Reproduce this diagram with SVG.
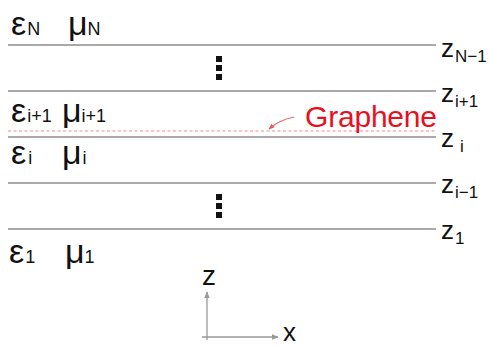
<svg xmlns="http://www.w3.org/2000/svg" width="489" height="347" viewBox="0 0 489 347">
<defs>
<style>
.layer{stroke:#8c8c8c;stroke-width:1.5;fill:none}
.t{font-family:"Liberation Sans","DejaVu Sans",sans-serif;fill:#111}
.big{font-size:34px}
.sub{font-size:18px}
.zs{font-size:17px}
.z{font-size:26px}
.dot{fill:#111}
.ax{stroke:#999;stroke-width:1.3;fill:none}
</style>
<marker id="ah" viewBox="0 0 10 10" refX="9" refY="5" markerWidth="7" markerHeight="7" orient="auto" markerUnits="userSpaceOnUse"><path d="M0,1 L10,5 L0,9 Z" fill="#999"/></marker>
<marker id="rh" viewBox="0 0 10 10" refX="9" refY="5" markerWidth="6" markerHeight="6" orient="auto" markerUnits="userSpaceOnUse"><path d="M0,1 L10,5 L0,9 Z" fill="#e85a5a"/></marker>
</defs>
<g id="interfaces">
<line class="layer" x1="8" y1="45" x2="436" y2="45"/>
<line class="layer" x1="8" y1="91" x2="436" y2="91"/>
<line class="layer" x1="8" y1="137" x2="436" y2="137"/>
<line class="layer" x1="8" y1="183" x2="436" y2="183"/>
<line class="layer" x1="8" y1="229" x2="436" y2="229"/>
</g>
<g id="graphene">
<line x1="8" y1="131" x2="436" y2="131" stroke="#f08a8a" stroke-width="1.2" stroke-dasharray="3,2.5"/>
<text class="t" x="305" y="127" font-size="30" textLength="132" style="fill:#e8101e">Graphene</text>
<path d="M294,117 Q279,120 269,129" stroke="#e85a5a" stroke-width="1.2" fill="none" marker-end="url(#rh)"/>
</g>
<g id="layer-N">
<text class="t" y="35"><tspan class="big" x="11">ε</tspan><tspan class="sub" dx="1">N</tspan></text>
<text class="t" y="35"><tspan class="big" x="68">μ</tspan><tspan class="sub" dx="0">N</tspan></text>
</g>
<g id="dots-top">
<rect class="dot" x="216" y="56" width="6" height="6"/>
<rect class="dot" x="216" y="65" width="6" height="6"/>
<rect class="dot" x="216" y="74" width="6" height="6"/>
</g>
<g id="layer-i1">
<text class="t" y="122"><tspan class="big" x="11">ε</tspan><tspan class="sub" dx="1">i+1</tspan></text>
<text class="t" y="122"><tspan class="big" x="62">μ</tspan><tspan class="sub">i+1</tspan></text>
</g>
<g id="layer-i">
<text class="t" y="164"><tspan class="big" x="11">ε</tspan><tspan class="sub" dx="2">i</tspan></text>
<text class="t" y="164"><tspan class="big" x="62">μ</tspan><tspan class="sub" dx="1">i</tspan></text>
</g>
<g id="dots-bottom">
<rect class="dot" x="216" y="194" width="6" height="6"/>
<rect class="dot" x="216" y="203" width="6" height="6"/>
<rect class="dot" x="216" y="212" width="6" height="6"/>
</g>
<g id="layer-1">
<text class="t" y="263"><tspan class="big" x="9">ε</tspan><tspan class="sub" dx="1">1</tspan></text>
<text class="t" y="263"><tspan class="big" x="65">μ</tspan><tspan class="sub">1</tspan></text>
</g>
<g id="z-labels">
<text class="t" y="57"><tspan class="z" x="441">z</tspan><tspan class="zs" dx="1" y="62">N−1</tspan></text>
<text class="t" y="102"><tspan class="z" x="441">z</tspan><tspan class="zs" dx="1" y="107">i+1</tspan></text>
<text class="t" y="147"><tspan class="z" x="441">z</tspan><tspan class="zs" dx="6" y="152">i</tspan></text>
<text class="t" y="193"><tspan class="z" x="441">z</tspan><tspan class="zs" dx="1" y="198">i−1</tspan></text>
<text class="t" y="239"><tspan class="z" x="441">z</tspan><tspan class="zs" dx="1" y="244">1</tspan></text>
</g>
<g id="axes">
<line class="ax" x1="207" y1="340" x2="207" y2="292" marker-end="url(#ah)"/>
<line class="ax" x1="202" y1="337" x2="278" y2="337" marker-end="url(#ah)"/>
<text class="t" x="202" y="285" font-size="28">z</text>
<text class="t" x="283" y="341" font-size="26">x</text>
</g>
</svg>
